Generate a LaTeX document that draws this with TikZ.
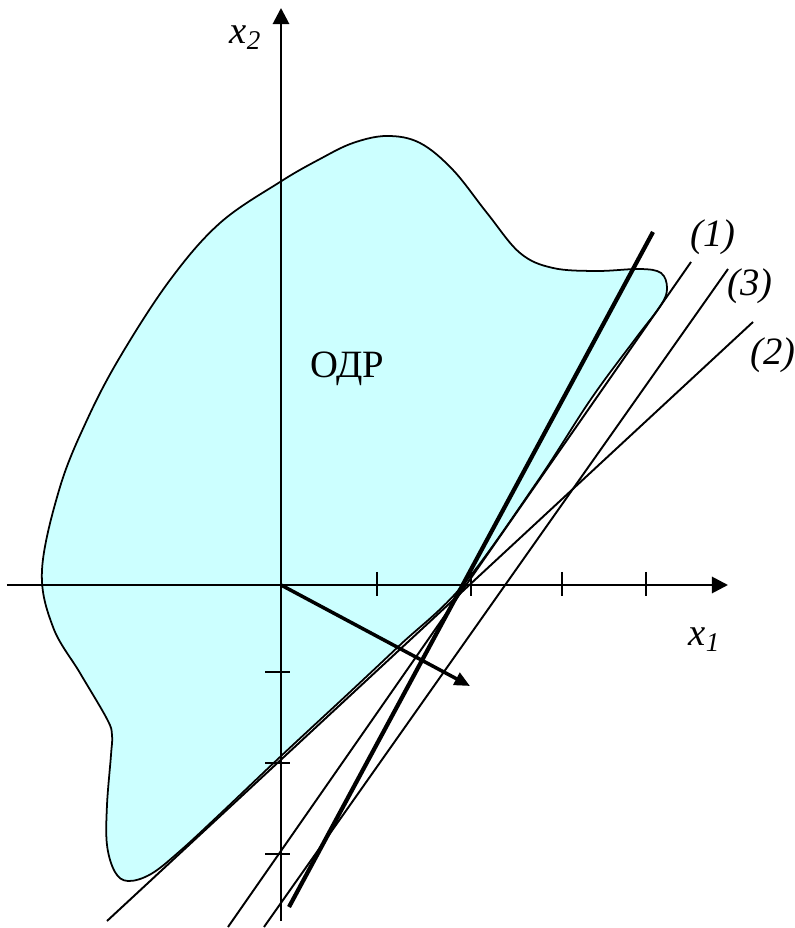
\documentclass[tikz,border=0pt]{standalone}
\usepackage{fontspec}
\setmainfont{Liberation Serif}
\usetikzlibrary{arrows.meta}
\definecolor{odrfill}{HTML}{CCFFFF}
\tikzset{
    axisline/.style={line width=0.8pt, -{Triangle[length=4.6pt,width=4.6pt]}},
    tickmark/.style={line width=0.7pt},
    levelline/.style={line width=0.55pt},
    optline/.style={line width=1.2pt},
    gradvec/.style={line width=1pt, -{Triangle[length=4.4pt,width=3.8pt]}},
    plainlabel/.style={font=\fontsize{11}{13}\selectfont, inner sep=0pt},
    itlabel/.style={font=\fontsize{11}{13}\selectfont\itshape, inner sep=0pt},
}

\begin{document}
\begin{tikzpicture}
        \useasboundingbox (-2.81,-3.43) rectangle (5.13,5.85);
        \coordinate (O) at (0,0);

        % feasible region
        \filldraw[fill=odrfill, line width=0.5pt] plot[smooth cycle, tension=0.6] coordinates {
            (-0.01,4.03) (0.39,4.26) (0.72,4.42) (1.06,4.49) (1.39,4.42) (1.72,4.15)
            (2.06,3.72) (2.39,3.32) (2.72,3.17) (3.16,3.14) (3.59,3.16) (3.80,3.12)
            (3.86,2.97) (3.80,2.80) (3.55,2.47) (3.10,1.86) (2.56,1.03) (1.82,0)
            (1.19,-0.60) (0.69,-1.07) (-0.01,-1.72) (-0.61,-2.29) (-1.01,-2.66)
            (-1.30,-2.89) (-1.53,-2.96) (-1.66,-2.87) (-1.74,-2.60) (-1.74,-2.20)
            (-1.70,-1.70) (-1.69,-1.50) (-1.74,-1.34) (-2.01,-0.88) (-2.28,-0.42)
            (-2.39,0.15) (-2.21,0.98) (-1.94,1.65) (-1.61,2.28) (-1.11,3.05) (-0.61,3.62)};
        \node[plainlabel] (odr) at (0.66,2.16) {ОДР};

        % axes and ticks
        \draw[axisline] (-2.74,0) -- (4.47,0);
        \draw[axisline] (0,-3.36) -- (0,5.77);
        \foreach \t in {0.96,1.90,2.81,3.65}
            \draw[tickmark] (\t,0.13) -- (\t,-0.11);
        \foreach \t in {-0.87,-1.78,-2.69}
            \draw[tickmark] (-0.16,\t) -- (0.09,\t);

        % lines through the optimum
        \draw[levelline] (4.10,3.23) -- (-0.53,-3.42); % (1)
        \draw[levelline] (4.72,2.63) -- (-1.74,-3.36); % (2)
        \draw[levelline] (4.47,3.16) -- (-0.17,-3.42); % (3)
        \draw[optline] (3.72,3.53) -- (0.08,-3.22);

        \draw[gradvec] (O) -- (1.89,-1.01);

        \node[itlabel] (xtwo) at (-0.35,5.47) {x\textsubscript{2}};
        \node[itlabel] (xone) at (4.24,-0.55) {x\textsubscript{1}};
        \node[itlabel] (lone) at (4.32,3.475) {(1)};
        \node[itlabel] (lthree) at (4.69,2.99) {(3)};
        \node[itlabel] (ltwo) at (4.92,2.30) {(2)};
\end{tikzpicture}
\end{document}
